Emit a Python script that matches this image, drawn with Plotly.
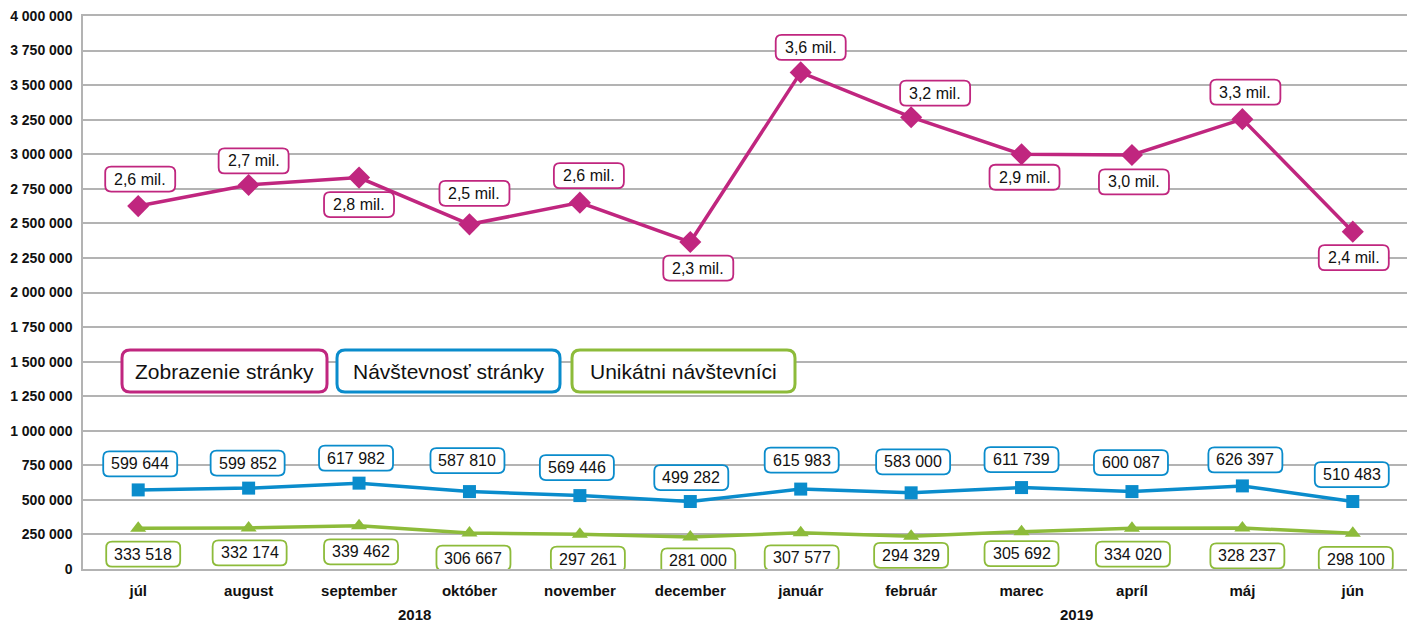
import plotly.graph_objects as go

# ---------------- data ----------------
months = ["júl", "august", "september", "október", "november", "december",
          "január", "február", "marec", "apríl", "máj", "jún"]
year_labels = ["2018", "2019"]

zobrazenie = [2625000, 2778000, 2831000, 2493000, 2650000, 2365000,
              3592000, 3268000, 3000000, 2995000, 3254000, 2440000]
zobrazenie_labels = ["2,6 mil.", "2,7 mil.", "2,8 mil.", "2,5 mil.", "2,6 mil.", "2,3 mil.",
                     "3,6 mil.", "3,2 mil.", "2,9 mil.", "3,0 mil.", "3,3 mil.", "2,4 mil."]

navstevnost = [572000, 585000, 621000, 560000, 531000, 488000,
               578000, 551000, 589000, 560000, 601000, 488000]
navstevnost_labels = ["599 644", "599 852", "617 982", "587 810", "569 446", "499 282",
                      "615 983", "583 000", "611 739", "600 087", "626 397", "510 483"]

unikatni = [295000, 297000, 312000, 260000, 252000, 232000,
            262000, 236000, 270000, 295000, 297000, 258000]
unikatni_labels = ["333 518", "332 174", "339 462", "306 667", "297 261", "281 000",
                   "307 577", "294 329", "305 692", "334 020", "328 237", "298 100"]

series_names = ["Zobrazenie stránky", "Návštevnosť stránky", "Unikátni návštevníci"]

tick_vals = [i * 250000 for i in range(17)]
tick_labels = ["0", "250 000", "500 000", "750 000", "1 000 000", "1 250 000", "1 500 000",
               "1 750 000", "2 000 000", "2 250 000", "2 500 000", "2 750 000", "3 000 000",
               "3 250 000", "3 500 000", "3 750 000", "4 000 000"]

# ---------------- styles ----------------
PINK = "#c0267f"
BLUE = "#0a8ccc"
GREEN = "#8dbb3a"
GRID = "#b3b3b3"
FONT = "Liberation Sans, Arial, sans-serif"

# label offsets in pixels (dx right, dy up) relative to each point
pink_dx = [2, 5, 0, 5, 9, 8, 10, 24, 3, 2, 3, 1]
pink_dy = [27, 24, -27, 31, 27, -26, 25, 24, -23, -27, 27, -26]
blue_dx = [2, -1, -3, -2, -3, 1, 1, 2, 0, -1, 3, -1]
blue_dy = [26, 25, 25, 31, 28, 24, 29, 31, 28, 29, 26, 27]
green_dx = [5, 1, 2, 4, 8, 8, 1, 0, 0, 1, 5, 3]
green_dy = [-26, -25, -26, -25, -25, -24, -25, -19, -22, -26, -28, -26]


def rrect(cx, cy, w, h, r):
    x0, x1 = cx - w / 2, cx + w / 2
    y0, y1 = cy - h / 2, cy + h / 2
    return (f"M {x0 + r},{y0} L {x1 - r},{y0} Q {x1},{y0} {x1},{y0 + r} "
            f"L {x1},{y1 - r} Q {x1},{y1} {x1 - r},{y1} L {x0 + r},{y1} "
            f"Q {x0},{y1} {x0},{y1 - r} L {x0},{y0 + r} Q {x0},{y0} {x0 + r},{y0} Z")


fig = go.Figure()

fig.add_trace(go.Scatter(x=months, y=unikatni, mode="lines+markers", name=series_names[2],
                         line=dict(color=GREEN, width=3.5),
                         marker=dict(symbol="triangle-up", size=14, color=GREEN)))
fig.add_trace(go.Scatter(x=months, y=navstevnost, mode="lines+markers", name=series_names[1],
                         line=dict(color=BLUE, width=3.5),
                         marker=dict(symbol="square", size=13, color=BLUE)))
fig.add_trace(go.Scatter(x=months, y=zobrazenie, mode="lines+markers", name=series_names[0],
                         line=dict(color=PINK, width=3.5),
                         marker=dict(symbol="diamond", size=17, color=PINK)))

shapes = []
annotations = []


def add_labels(values, labels, dxs, dys, color, width):
    for i, (v, lab) in enumerate(zip(values, labels)):
        shapes.append(dict(type="path", xref="x", yref="y", xsizemode="pixel", ysizemode="pixel",
                           xanchor=i, yanchor=v,
                           path=rrect(dxs[i], dys[i], width, 25, 6),
                           line=dict(color=color, width=1.8), fillcolor="white", layer="above"))
        annotations.append(dict(x=i, y=v, xref="x", yref="y", text=lab, showarrow=False,
                                xanchor="center", yanchor="middle",
                                xshift=dxs[i], yshift=dys[i],
                                font=dict(family=FONT, size=16, color="#111111")))


add_labels(zobrazenie, zobrazenie_labels, pink_dx, pink_dy, PINK, 70)
add_labels(navstevnost, navstevnost_labels, blue_dx, blue_dy, BLUE, 74)
add_labels(unikatni, unikatni_labels, green_dx, green_dy, GREEN, 74)

# legend boxes (pixel offsets from plot's bottom-left corner)
legend_boxes = [(141.5, 205), (365.5, 223), (600.5, 223)]
legend_colors = [PINK, BLUE, GREEN]
for (cx, w), col, name in zip(legend_boxes, legend_colors, series_names):
    shapes.append(dict(type="path", xref="paper", yref="paper", xsizemode="pixel", ysizemode="pixel",
                       xanchor=0, yanchor=0, path=rrect(cx, 198, w, 42, 8),
                       line=dict(color=col, width=3), fillcolor="white", layer="above"))
    annotations.append(dict(x=0, y=0, xref="paper", yref="paper", text=name, showarrow=False,
                            xanchor="center", yanchor="middle",
                            xshift=cx, yshift=198,
                            font=dict(family=FONT, size=21, color="#111111")))

# year labels under the month labels
for xpos, yl in zip([2.5, 8.5], year_labels):
    annotations.append(dict(x=xpos, y=0, xref="x", yref="paper", text=yl, showarrow=False,
                            xanchor="center", yanchor="middle", yshift=-45,
                            font=dict(family=FONT, size=15, color="#111111", weight="bold")))

fig.update_layout(
    width=1407, height=616,
    margin=dict(l=75, r=7, t=8, b=55, autoexpand=False),
    paper_bgcolor="white", plot_bgcolor="white",
    showlegend=False,
    shapes=shapes, annotations=annotations,
    xaxis=dict(type="category", range=[-0.5, 11.5], showgrid=False, showline=True,
               linecolor=GRID, linewidth=1.5, mirror=True, ticks="", automargin=False,
               tickfont=dict(family=FONT, size=15, color="#111111", weight="bold"),
               ticklabelstandoff=7, fixedrange=True),
    yaxis=dict(range=[0, 4000000], tickvals=tick_vals, ticktext=tick_labels,
               showgrid=True, gridcolor=GRID, gridwidth=1.5, zeroline=False, automargin=False,
               showline=True, linecolor=GRID, linewidth=1.5, mirror=True, ticks="",
               tickfont=dict(family=FONT, size=14, color="#111111", weight="bold"),
               ticklabelstandoff=6, ticklabeloverflow="allow", fixedrange=True),
)

fig.write_html("out.html")
